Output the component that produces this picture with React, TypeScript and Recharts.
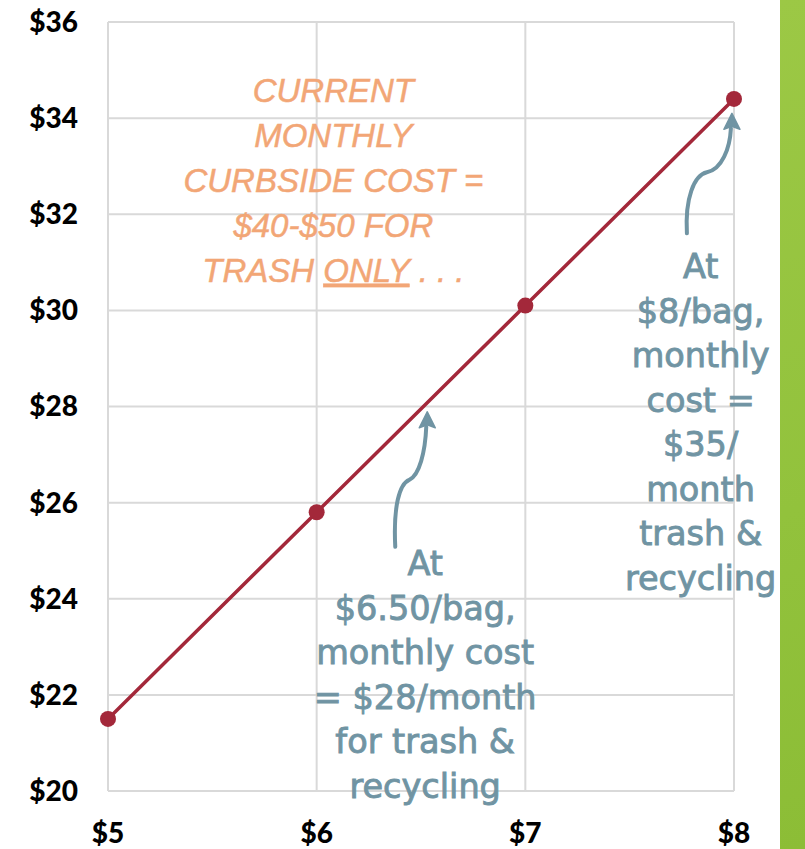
import { LineChart, Line, XAxis, YAxis, CartesianGrid, ReferenceDot } from 'recharts';

const prices = [5, 6, 7, 8];
const monthlyCost = [21.5, 25.8, 30.1, 34.4];
const xTicks = [5, 6, 7, 8];
const yTicks = [20, 22, 24, 26, 28, 30, 32, 34, 36];

const currentNote = ['CURRENT', 'MONTHLY', 'CURBSIDE COST =', '$40-$50 FOR'];
const note650 = ['At', '$6.50/bag,', 'monthly cost', '= $28/month', 'for trash &', 'recycling'];
const note8 = ['At', '$8/bag,', 'monthly', 'cost =', '$35/', 'month', 'trash &', 'recycling'];

const data = prices.map((p, i) => ({ price: p, cost: monthlyCost[i] }));

const RED = '#a3283a';
const BLUE = '#7094a3';
const ORANGE = '#f2a676';

function fmt(v: number) {
  return `$${v}`;
}

const OrangeNote = (props: any) => {
  const { cx, cy } = props;
  return (
    <text x={cx} y={cy} textAnchor="middle" fill={ORANGE} stroke={ORANGE} strokeWidth={0.5} fontFamily="Liberation Sans, Arial, sans-serif" fontStyle="italic" fontSize={33}>
      {currentNote.map((l, i) => (
        <tspan key={i} x={cx} y={cy + i * 45}>{l}</tspan>
      ))}
      <tspan x={cx} y={cy + 4 * 45}>
        TRASH <tspan textDecoration="underline">ONLY</tspan> . . .
      </tspan>
    </text>
  );
};

const blueNote = (lines: string[]) => (props: any) => {
  const { cx, cy } = props;
  return (
    <text x={cx} y={cy} textAnchor="middle" fill={BLUE} stroke={BLUE} strokeWidth={0.9} fontFamily="DejaVu Sans, sans-serif" fontSize={33.5}>
      {lines.map((l, i) => (
        <tspan key={i} x={cx} y={cy + i * 44.5}>{l}</tspan>
      ))}
    </text>
  );
};

const arrow = (d: string) => (props: any) => {
  const { cx, cy } = props;
  return (
    <g transform={`translate(${cx},${cy})`}>
      <path d={d} fill="none" stroke={BLUE} strokeWidth={4} strokeLinecap="round" />
      <path d="M0 0 L-8 16 L0 13 L8 16 Z" fill={BLUE} stroke={BLUE} strokeWidth={1.5} strokeLinejoin="round" />
    </g>
  );
};

const tickStyle = { fontSize: 28, fontWeight: 900, fill: '#000', fontFamily: 'Lato, sans-serif' };

export default function App() {
  return (
    <div style={{ position: 'absolute', left: 0, top: 0, width: 805, height: 849, background: '#fff', overflow: 'hidden' }}>
      <div style={{ position: 'absolute', left: 780, top: 0, width: 25, height: 849, background: 'linear-gradient(160deg, #9cc845 0%, #92c23c 60%, #8cbd36 100%)' }} />
      <LineChart width={805} height={849} data={data} margin={{ top: 22, right: 71, left: 0, bottom: 0 }}>
        <CartesianGrid stroke="#d9d9d9" strokeWidth={2} />
        <XAxis
          dataKey="price"
          type="number"
          domain={[5, 8]}
          ticks={xTicks}
          tickFormatter={fmt}
          axisLine={false}
          tickLine={false}
          tickSize={0}
          tickMargin={32}
          height={58}
          tick={tickStyle}
        />
        <YAxis
          type="number"
          domain={[20, 36]}
          ticks={yTicks}
          tickFormatter={fmt}
          axisLine={false}
          tickLine={false}
          tickSize={0}
          tickMargin={30}
          width={108}
          tick={tickStyle}
        />
        <Line type="linear" dataKey="cost" stroke={RED} strokeWidth={3.5} dot={{ r: 8, fill: RED, stroke: 'none' }} isAnimationActive={false} />
        <ReferenceDot x={6.08} y={34.34} r={0} ifOverflow="visible" shape={OrangeNote} />
        <ReferenceDot x={6.53} y={27.89} r={0} ifOverflow="visible" shape={arrow('M-32 135 C-34 95 -28 72 -18 68 C-8 64 -2 40 -1 15')} />
        <ReferenceDot x={7.99} y={34.1} r={0} ifOverflow="visible" shape={arrow('M-45 120 C-47 85 -38 62 -25 59 C-10 56 -2 35 -1 15')} />
        <ReferenceDot x={6.52} y={24.49} r={0} ifOverflow="visible" shape={blueNote(note650)} />
        <ReferenceDot x={7.84} y={30.67} r={0} ifOverflow="visible" shape={blueNote(note8)} />
      </LineChart>
    </div>
  );
}
